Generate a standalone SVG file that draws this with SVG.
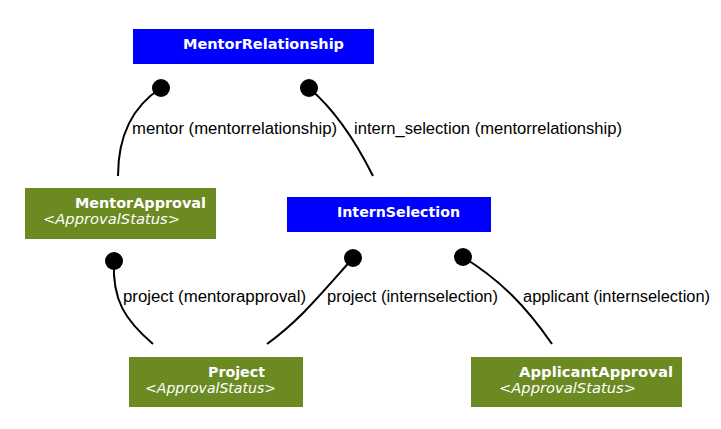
<svg xmlns="http://www.w3.org/2000/svg" width="721" height="429" viewBox="0 0 721 429">
<style>
.blue{fill:#0000ff}
.green{fill:#6b8a22}
.t{font-family:"DejaVu Sans",sans-serif;font-weight:bold;font-size:13.5px;fill:#fff}
.s{font-family:"DejaVu Sans",sans-serif;font-style:italic;font-size:14px;fill:#fff}
.c{fill:none;stroke:#000;stroke-width:2}
.d{fill:#000}
.l{font-family:"Liberation Sans",Arial,sans-serif;font-size:16px;fill:#000}
</style>
<rect width="721" height="429" fill="#fff"/>
<g id="MentorRelationship">
<rect class="blue" x="133" y="29" width="241" height="35"/>
<text class="t" x="183" y="49" textLength="161" lengthAdjust="spacingAndGlyphs">MentorRelationship</text>
</g>
<g id="MentorApproval">
<rect class="green" x="25" y="188" width="191" height="51"/>
<text class="t" x="75" y="208" textLength="131" lengthAdjust="spacingAndGlyphs">MentorApproval</text>
<text class="s" x="43" y="224" textLength="137" lengthAdjust="spacingAndGlyphs">&lt;ApprovalStatus&gt;</text>
</g>
<g id="InternSelection">
<rect class="blue" x="287" y="197" width="204" height="35"/>
<text class="t" x="337" y="217" textLength="123" lengthAdjust="spacingAndGlyphs">InternSelection</text>
</g>
<g id="Project">
<rect class="green" x="129" y="357" width="174" height="50"/>
<text class="t" x="208" y="377" textLength="57" lengthAdjust="spacingAndGlyphs">Project</text>
<text class="s" x="145" y="393" textLength="131" lengthAdjust="spacingAndGlyphs">&lt;ApprovalStatus&gt;</text>
</g>
<g id="ApplicantApproval">
<rect class="green" x="471" y="357" width="211" height="50"/>
<text class="t" x="519" y="377" textLength="154" lengthAdjust="spacingAndGlyphs">ApplicantApproval</text>
<text class="s" x="499" y="393" textLength="137" lengthAdjust="spacingAndGlyphs">&lt;ApprovalStatus&gt;</text>
</g>
<g id="connectors">
<path class="c" d="M161,88 C130,108 118,140 118,176"/>
<circle class="d" cx="161" cy="88" r="9"/>
<text class="l" x="132" y="134" textLength="205" lengthAdjust="spacingAndGlyphs">mentor (mentorrelationship)</text>
<path class="c" d="M309,88 C335,110 355,140 373,176"/>
<circle class="d" cx="309" cy="88" r="9"/>
<text class="l" x="354" y="134" textLength="268" lengthAdjust="spacingAndGlyphs">intern_selection (mentorrelationship)</text>
<path class="c" d="M114,261 C112,300 125,320 153,344"/>
<circle class="d" cx="114" cy="261" r="9"/>
<text class="l" x="123" y="302" textLength="183" lengthAdjust="spacingAndGlyphs">project (mentorapproval)</text>
<path class="c" d="M353,258 C320,295 300,320 267,344"/>
<circle class="d" cx="353" cy="258" r="9"/>
<text class="l" x="327" y="302" textLength="171" lengthAdjust="spacingAndGlyphs">project (internselection)</text>
<path class="c" d="M463,257 C500,280 525,305 552,344"/>
<circle class="d" cx="463" cy="257" r="9"/>
<text class="l" x="523" y="302" textLength="187" lengthAdjust="spacingAndGlyphs">applicant (internselection)</text>
</g>
</svg>
